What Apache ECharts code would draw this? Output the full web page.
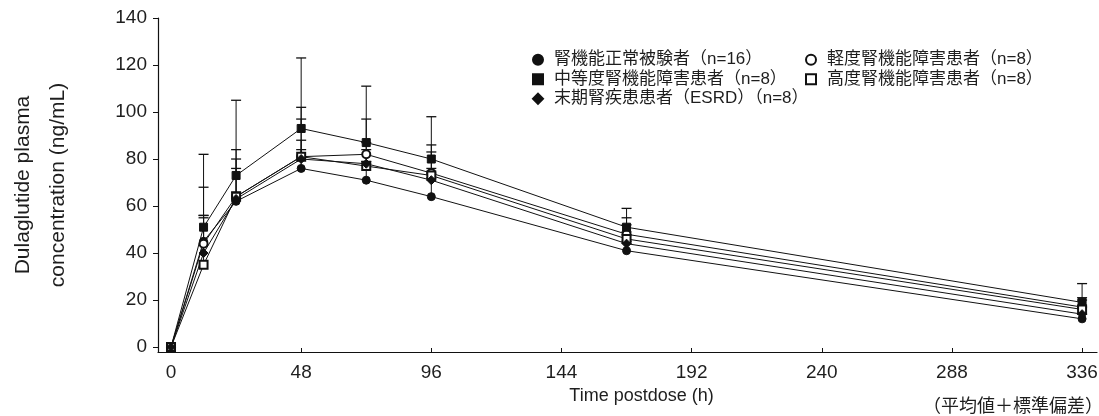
<!DOCTYPE html>
<html>
<head>
<meta charset="utf-8">
<script src="https://cdn.jsdelivr.net/npm/echarts@6/dist/echarts.min.js"></script>
<style>
  html, body { margin: 0; padding: 0; background: #fff; }
  #main { width: 1099px; height: 416px; }
</style>
</head>
<body>
<div id="main"></div>
<script>
// sampling times (h)
var hours = [0, 12, 24, 48, 72, 96, 168, 336];
var xTicks = [0, 48, 96, 144, 192, 240, 288, 336];
var yTicks = [0, 20, 40, 60, 80, 100, 120, 140];

// mean and SD (ng/mL)
var normalMean = [0, 45, 62, 76, 71, 64, 41, 12];
var normalSd = [0, 11, 4, 8, 8, 8, 4, 2];
var mildMean = [0, 44, 64, 81, 82, 74, 48, 17];
var mildSd = [0, 24, 20, 21, 15, 12, 7, 4];
var moderateMean = [0, 51, 73, 93, 87, 80, 51, 19];
var moderateSd = [0, 31, 32, 30, 24, 18, 8, 8];
var severeMean = [0, 35, 64, 81, 77, 73, 46, 16];
var severeSd = [0, 20, 16, 16, 10, 10, 6, 4];
var esrdMean = [0, 40, 63, 80, 78, 71, 44, 14];
var esrdSd = [0, 16, 13, 8, 6, 5, 5, 3];

var normalName = '腎機能正常被験者（n=16）';
var mildName = '軽度腎機能障害患者（n=8）';
var moderateName = '中等度腎機能障害患者（n=8）';
var severeName = '高度腎機能障害患者（n=8）';
var esrdName = '末期腎疾患患者（ESRD）（n=8）';

var ink = '#111';
var textInk = '#1e1e1e';
var font = "'Liberation Sans', 'Noto Sans CJK JP', sans-serif";

function lineSeries(name, mean, symbol, size) {
    return {
        name: name,
        type: 'line',
        data: hours.map(function (h, i) { return [h, mean[i]]; }),
        symbol: symbol,
        symbolSize: size,
        lineStyle: { color: ink, width: 1 },
        itemStyle: { color: ink, borderColor: ink, borderWidth: 1 },
        z: 3
    };
}

function errorBars(mean, sd) {
    return {
        type: 'custom',
        silent: true,
        z: 2,
        data: hours.map(function (h, i) { return [h, mean[i], mean[i] + sd[i]]; }),
        encode: { x: 0, y: [1, 2] },
        renderItem: function (params, api) {
            if (api.value(2) <= api.value(1)) return null;
            var base = api.coord([api.value(0), api.value(1)]);
            var top = api.coord([api.value(0), api.value(2)]);
            return {
                type: 'group',
                children: [
                    { type: 'line', shape: { x1: base[0], y1: base[1], x2: top[0], y2: top[1] }, style: { stroke: ink, lineWidth: 1 } },
                    { type: 'line', shape: { x1: top[0] - 5, y1: top[1], x2: top[0] + 5, y2: top[1] }, style: { stroke: ink, lineWidth: 1.3 } }
                ]
            };
        }
    };
}

var legendText = { fontFamily: font, fontSize: 17, color: textInk, lineHeight: 19.5, padding: [0, 0, 0, 6] };

var myChart = echarts.init(document.getElementById('main'));

var option = {
    animation: false,
    backgroundColor: '#fff',
    color: [ink],
    textStyle: { fontFamily: font },
    // axis lines sit a little outside the 0 h / 0 ng/mL marks
    grid: { left: 158, right: 2, top: 18, bottom: 64, outerBoundsMode: 'none' },
    legend: [
        {
            orient: 'vertical',
            left: 532,
            top: 50,
            padding: 0,
            itemWidth: 10,
            itemHeight: 10,
            itemGap: 0,
            selectedMode: false,
            textStyle: legendText,
            data: [
                { name: normalName, icon: 'circle' },
                { name: moderateName, icon: 'rect' },
                { name: esrdName, icon: 'diamond' }
            ]
        },
        {
            orient: 'vertical',
            left: 805,
            top: 50,
            padding: 0,
            itemWidth: 10,
            itemHeight: 10,
            itemGap: 0,
            selectedMode: false,
            textStyle: legendText,
            data: [
                { name: mildName, icon: 'emptyCircle' },
                { name: severeName, icon: 'emptyRect' }
            ]
        }
    ],
    xAxis: {
        type: 'value',
        min: -4.8,
        max: 341.5,
        splitLine: { show: false },
        axisLine: { show: true, onZero: false, lineStyle: { color: ink, width: 1.2 } },
        axisTick: { show: true, inside: true, length: 4, customValues: xTicks, lineStyle: { color: ink } },
        axisLabel: { color: textInk, fontSize: 19, margin: 11, fontFamily: font, customValues: xTicks },
        name: 'Time postdose (h)',
        nameLocation: 'middle',
        nameGap: 32,
        nameTextStyle: { color: textInk, fontSize: 18, fontFamily: font, padding: [0, 0, 0, 28] }
    },
    yAxis: {
        type: 'value',
        min: -2.1,
        max: 140,
        splitLine: { show: false },
        axisLine: { show: true, onZero: false, lineStyle: { color: ink, width: 1.2 } },
        axisTick: { show: true, length: 5, customValues: yTicks, lineStyle: { color: ink } },
        axisLabel: { color: textInk, fontSize: 19, margin: 11, fontFamily: font, customValues: yTicks },
        name: 'Dulaglutide plasma\nconcentration (ng/mL)',
        nameLocation: 'middle',
        nameRotate: 90,
        nameGap: 82,
        nameTextStyle: { color: textInk, fontSize: 21, lineHeight: 35, fontFamily: font }
    },
    graphic: [
        {
            type: 'text',
            right: -4,
            bottom: 0,
            style: { text: '（平均値＋標準偏差）', fontSize: 18, fill: textInk, fontFamily: font }
        }
    ],
    series: [
        errorBars(normalMean, normalSd),
        errorBars(mildMean, mildSd),
        errorBars(moderateMean, moderateSd),
        errorBars(severeMean, severeSd),
        errorBars(esrdMean, esrdSd),
        lineSeries(normalName, normalMean, 'circle', 8),
        lineSeries(mildName, mildMean, 'emptyCircle', 8),
        lineSeries(moderateName, moderateMean, 'rect', 8),
        lineSeries(severeName, severeMean, 'emptyRect', 8),
        lineSeries(esrdName, esrdMean, 'diamond', 9)
    ]
};

myChart.setOption(option);

window.addEventListener('resize', function () {
    myChart.resize();
});
</script>
</body>
</html>
